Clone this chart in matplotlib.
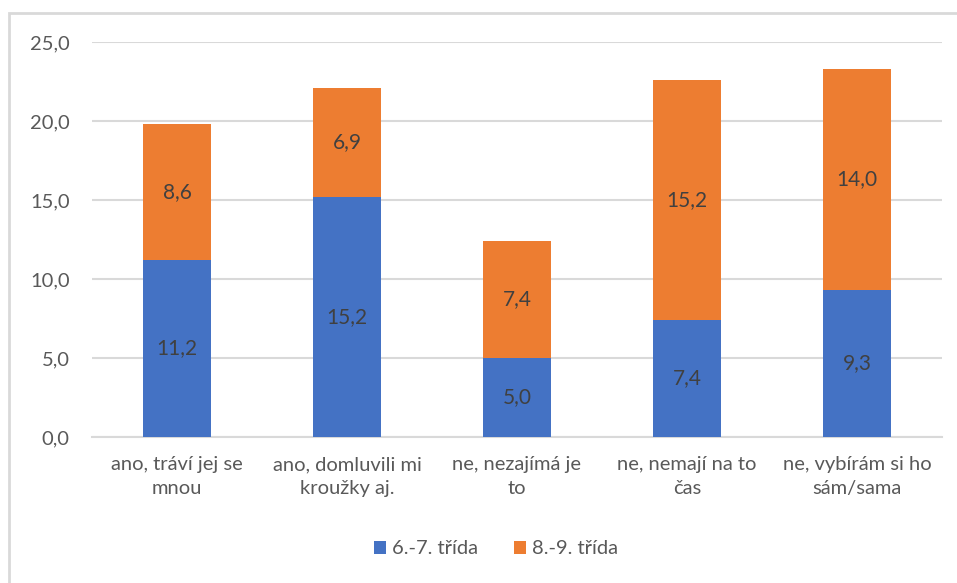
import numpy as np
import matplotlib
matplotlib.use("Agg")
import matplotlib.pyplot as plt
from matplotlib.patches import Rectangle

categories = ["ano, tráví jej se\nmnou", "ano, domluvili mi\nkroužky aj.",
              "ne, nezajímá je\nto", "ne, nemají na to\nčas",
              "ne, vybírám si ho\nsám/sama"]
grade_67 = [11.2, 15.2, 5.0, 7.4, 9.3]
grade_89 = [8.6, 6.9, 7.4, 15.2, 14.0]
series_names = ["6.-7. třída", "8.-9. třída"]
yticks = [0, 5, 10, 15, 20, 25]

plt.rcParams['font.family'] = ['Lato', 'DejaVu Sans']
text_col = '#595959'
fs = 14.5

fig = plt.figure(figsize=(9.57, 5.83), dpi=100)
ax = fig.add_axes([92 / 957, 1 - 437 / 583, 850 / 957, (437 - 42) / 583])

# outer chart border
fig.patches.append(Rectangle((9 / 957, -0.05), 1.1, 1 - 13 / 583 + 0.05,
                             transform=fig.transFigure, fill=False,
                             edgecolor='#d9d9d9', lw=2))

x = np.arange(len(categories))
w = 0.4
b1 = ax.bar(x, grade_67, w, color='#4472C4', label=series_names[0], zorder=3)
b2 = ax.bar(x, grade_89, w, bottom=grade_67, color='#ED7D31',
            label=series_names[1], zorder=3)

for bars, vals, base in [(b1, grade_67, [0] * 5), (b2, grade_89, grade_67)]:
    for rect, v, b in zip(bars, vals, base):
        ax.text(rect.get_x() + rect.get_width() / 2, b + v / 2,
                f"{v:.1f}".replace('.', ','), ha='center', va='center',
                fontsize=fs + 0.5, color='#404040', zorder=4)

ax.set_xlim(-0.5, len(categories) - 0.5)
ax.set_ylim(0, 25)
ax.set_yticks(yticks)
ax.set_yticklabels([f"{t:.1f}".replace('.', ',') for t in yticks])
ax.set_xticks(x)
ax.set_xticklabels(categories)
ax.yaxis.grid(True, color='#d9d9d9', lw=1.5, zorder=0)
for s in ['top', 'right', 'left']:
    ax.spines[s].set_visible(False)
ax.spines['bottom'].set_color('#d9d9d9')
ax.spines['bottom'].set_linewidth(1.5)
ax.tick_params(axis='both', length=0, colors=text_col, labelsize=fs)
ax.tick_params(axis='y', pad=16)
ax.tick_params(axis='x', pad=14)
for lab in ax.get_xticklabels():
    lab.set_linespacing(1.45)

fig.legend(handles=[b1, b2], labels=series_names, loc='center',
           bbox_to_anchor=(496 / 957, 1 - 549 / 583), ncol=2, frameon=False,
           fontsize=fs, labelcolor=text_col, handlelength=0.6,
           handleheight=0.6, handletextpad=0.3, columnspacing=1.8)

fig.savefig('out.png', dpi=100)
